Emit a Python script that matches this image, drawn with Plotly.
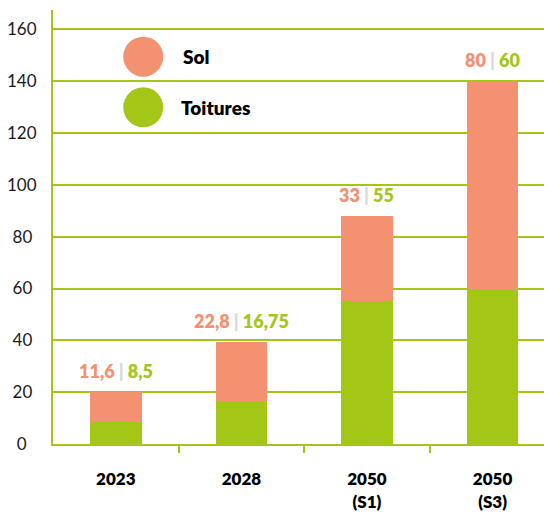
import plotly.graph_objects as go

# ---- data ----
categories = ["2023", "2028", "2050<br>(S1)", "2050<br>(S3)"]
sol = [11.6, 22.8, 33, 80]
toitures = [8.5, 16.75, 55, 60]
y_ticks = [0, 20, 40, 60, 80, 100, 120, 140, 160]
legend_names = ["Sol", "Toitures"]

SOL_C = "#F39171"
TOIT_C = "#A3C617"
SEP_C = "#D9D9D9"
FONT = "Lato"

def fmt(v):
    return f"{v:g}".replace(".", ",")

X_RANGE = [-0.5, 3.537]

fig = go.Figure()
fig.add_trace(go.Bar(x=categories, y=toitures, name=legend_names[1],
                     marker=dict(color=TOIT_C, line=dict(width=0)), width=0.41))
fig.add_trace(go.Bar(x=categories, y=sol, name=legend_names[0],
                     marker=dict(color=SOL_C, line=dict(width=0)), width=0.41))
# helper trace for the boundary tick axis
fig.add_trace(go.Scatter(x=[], y=[], xaxis="x2", yaxis="y", showlegend=False))

# value labels above bars (x given as category index)
for i, (s, t) in enumerate(zip(sol, toitures)):
    txt = (f"<span style='color:{SOL_C}'>{fmt(s)}</span> "
           f"<span style='color:{SEP_C}'>|</span> "
           f"<span style='color:{TOIT_C}'>{fmt(t)}</span>")
    fig.add_annotation(x=i, y=s + t, text=txt, showarrow=False,
                       xref="x", yref="y",
                       yanchor="bottom", yshift=8,
                       font=dict(family=FONT, size=18, weight=800))

# legend: circles + text
legend_colors = [SOL_C, TOIT_C]
legend_y = [0.8924, 0.7758]
legend_tx = [0.2525, 0.248]
for name, col, ly, tx in zip(legend_names, legend_colors, legend_y, legend_tx):
    fig.add_shape(type="circle", xref="paper", yref="paper",
                  xsizemode="pixel", ysizemode="pixel",
                  xanchor=0.178, yanchor=ly, x0=-20, x1=20, y0=-20, y1=20,
                  fillcolor=col, line=dict(width=0))
    fig.add_annotation(xref="paper", yref="paper", x=tx, y=ly,
                       text=name, showarrow=False, xanchor="left", yanchor="middle",
                       font=dict(family=FONT, size=19, weight=800, color="#000000"))

pad = {1: "\u2007", 2: "\u2005", 3: ""}
y_text = [str(v) + pad[len(str(v))] for v in y_ticks]

fig.update_layout(
    width=552, height=513,
    margin=dict(l=45, r=0, t=2, b=77, autoexpand=False),
    barmode="stack",
    showlegend=False,
    plot_bgcolor="white", paper_bgcolor="white",
    font=dict(family=FONT, color="#000000"),
    xaxis=dict(type="category", range=X_RANGE, automargin=False,
               showgrid=False, showline=True, linecolor=TOIT_C, linewidth=2,
               ticks="", ticklabelstandoff=19,
               tickfont=dict(family=FONT, size=17, weight=800, color="#000000")),
    xaxis2=dict(overlaying="x", anchor="y", range=X_RANGE, automargin=False,
                tickvals=[0.5, 1.5, 2.5], ticks="outside", ticklen=8, tickwidth=2,
                tickcolor=TOIT_C, showticklabels=False, showgrid=False,
                showline=False, zeroline=False, side="bottom"),
    yaxis=dict(range=[0, 167.5], tickvals=y_ticks, ticktext=y_text, automargin=False,
               showgrid=True, gridcolor=TOIT_C, gridwidth=2,
               showline=True, linecolor=TOIT_C, linewidth=2, zeroline=False,
               ticks="", ticklabelstandoff=11,
               tickfont=dict(family=FONT, size=17, color="#1a1a1a")),
)

fig.write_html("out.html")
